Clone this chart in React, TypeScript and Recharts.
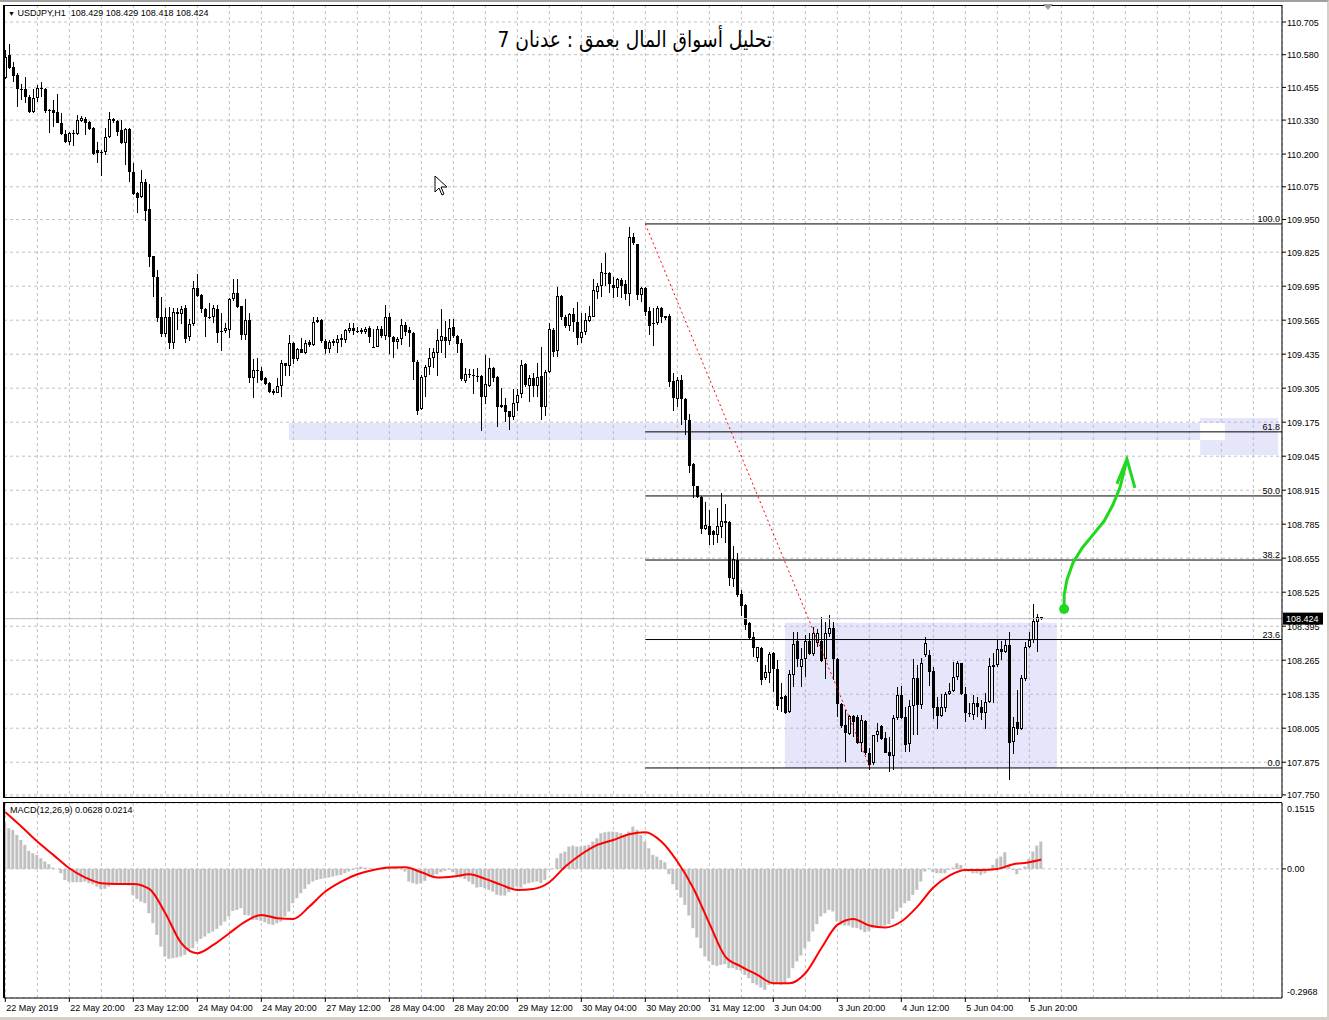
import React from "react";
import {
  ComposedChart,
  Bar,
  Line,
  Scatter,
  XAxis,
  YAxis,
  CartesianGrid,
  ReferenceLine,
  ReferenceArea,
} from "recharts";

// USDJPY H1, one row per bar: [open, high, low, close], bar 0 = 22 May 04:00
const ohlc: number[][] = [
  [110.491, 110.598, 110.487, 110.571], [110.579, 110.621, 110.525, 110.529], [110.533, 110.552, 110.476, 110.498], [110.502, 110.51, 110.38, 110.449], [110.449, 110.468, 110.407, 110.447],
  [110.449, 110.495, 110.395, 110.418], [110.418, 110.426, 110.357, 110.361], [110.361, 110.449, 110.357, 110.414], [110.414, 110.464, 110.399, 110.453], [110.453, 110.476, 110.418, 110.451],
  [110.449, 110.453, 110.357, 110.365], [110.369, 110.372, 110.281, 110.367], [110.369, 110.407, 110.304, 110.357], [110.361, 110.43, 110.317, 110.319], [110.319, 110.357, 110.273, 110.277],
  [110.277, 110.292, 110.242, 110.246], [110.246, 110.284, 110.235, 110.281], [110.281, 110.292, 110.231, 110.277], [110.277, 110.349, 110.273, 110.33], [110.326, 110.346, 110.323, 110.338],
  [110.334, 110.342, 110.273, 110.319], [110.323, 110.326, 110.292, 110.296], [110.3, 110.304, 110.197, 110.2], [110.216, 110.246, 110.166, 110.204], [110.208, 110.216, 110.116, 110.206],
  [110.208, 110.3, 110.197, 110.265], [110.265, 110.361, 110.262, 110.334], [110.334, 110.338, 110.319, 110.326], [110.326, 110.33, 110.269, 110.284], [110.292, 110.33, 110.24, 110.242],
  [110.242, 110.3, 110.158, 110.296], [110.296, 110.298, 110.093, 110.132], [110.132, 110.166, 110.044, 110.047], [110.051, 110.055, 109.975, 110.032], [110.036, 110.139, 110.034, 110.093],
  [110.093, 110.105, 109.944, 109.982], [109.99, 110.086, 109.768, 109.807], [109.81, 109.812, 109.654, 109.73], [109.73, 109.757, 109.558, 109.573], [109.577, 109.654, 109.501, 109.512],
  [109.512, 109.612, 109.501, 109.577], [109.577, 109.616, 109.455, 109.478], [109.478, 109.612, 109.455, 109.596], [109.596, 109.612, 109.528, 109.589], [109.589, 109.619, 109.55, 109.608],
  [109.612, 109.623, 109.478, 109.493], [109.501, 109.57, 109.486, 109.55], [109.55, 109.715, 109.543, 109.688], [109.688, 109.742, 109.654, 109.657], [109.661, 109.665, 109.592, 109.608],
  [109.608, 109.612, 109.501, 109.577], [109.577, 109.631, 109.57, 109.575], [109.577, 109.623, 109.554, 109.612], [109.608, 109.623, 109.478, 109.516], [109.524, 109.592, 109.447, 109.52],
  [109.524, 109.554, 109.516, 109.535], [109.528, 109.65, 109.497, 109.646], [109.646, 109.723, 109.639, 109.669], [109.669, 109.723, 109.612, 109.616], [109.619, 109.619, 109.489, 109.508],
  [109.508, 109.646, 109.489, 109.566], [109.566, 109.592, 109.325, 109.344], [109.344, 109.417, 109.268, 109.375], [109.373, 109.421, 109.325, 109.371], [109.371, 109.386, 109.333, 109.337],
  [109.344, 109.348, 109.318, 109.321], [109.325, 109.329, 109.287, 109.291], [109.295, 109.302, 109.279, 109.287], [109.287, 109.344, 109.287, 109.314], [109.314, 109.413, 109.272, 109.401],
  [109.401, 109.403, 109.352, 109.39], [109.39, 109.508, 109.352, 109.478], [109.478, 109.48, 109.398, 109.417], [109.417, 109.459, 109.409, 109.455], [109.455, 109.497, 109.438, 109.44],
  [109.44, 109.489, 109.436, 109.478], [109.482, 109.489, 109.463, 109.47], [109.47, 109.577, 109.466, 109.558], [109.558, 109.577, 109.554, 109.566], [109.566, 109.57, 109.478, 109.486],
  [109.486, 109.493, 109.436, 109.455], [109.455, 109.489, 109.44, 109.482], [109.486, 109.493, 109.466, 109.478], [109.478, 109.508, 109.44, 109.493], [109.497, 109.512, 109.463, 109.489],
  [109.489, 109.531, 109.478, 109.528], [109.524, 109.554, 109.516, 109.535], [109.535, 109.554, 109.508, 109.524], [109.524, 109.539, 109.516, 109.522], [109.528, 109.535, 109.512, 109.52],
  [109.52, 109.539, 109.512, 109.531], [109.535, 109.543, 109.478, 109.501], [109.463, 109.531, 109.459, 109.461], [109.463, 109.543, 109.463, 109.531], [109.531, 109.543, 109.497, 109.505],
  [109.505, 109.623, 109.489, 109.577], [109.577, 109.592, 109.436, 109.501], [109.501, 109.505, 109.421, 109.482], [109.482, 109.501, 109.455, 109.493], [109.493, 109.57, 109.47, 109.547],
  [109.547, 109.558, 109.505, 109.52], [109.528, 109.539, 109.463, 109.516], [109.516, 109.52, 109.337, 109.405], [109.405, 109.413, 109.203, 109.218], [109.226, 109.356, 109.222, 109.348],
  [109.348, 109.394, 109.272, 109.386], [109.386, 109.459, 109.356, 109.421], [109.421, 109.459, 109.382, 109.444], [109.44, 109.531, 109.352, 109.489], [109.486, 109.608, 109.44, 109.505],
  [109.501, 109.562, 109.421, 109.486], [109.486, 109.57, 109.47, 109.535], [109.539, 109.57, 109.497, 109.505], [109.505, 109.508, 109.44, 109.474], [109.478, 109.493, 109.333, 109.34],
  [109.333, 109.382, 109.325, 109.359], [109.356, 109.378, 109.344, 109.358], [109.352, 109.378, 109.283, 109.354], [109.352, 109.382, 109.329, 109.35], [109.352, 109.354, 109.141, 109.272],
  [109.272, 109.432, 109.245, 109.321], [109.314, 109.421, 109.31, 109.382], [109.382, 109.386, 109.329, 109.344], [109.348, 109.35, 109.157, 109.233], [109.241, 109.306, 109.229, 109.233],
  [109.241, 109.268, 109.176, 109.214], [109.218, 109.218, 109.146, 109.195], [109.195, 109.302, 109.184, 109.249], [109.249, 109.302, 109.218, 109.279], [109.283, 109.413, 109.268, 109.394],
  [109.398, 109.401, 109.31, 109.318], [109.314, 109.356, 109.252, 109.344], [109.344, 109.363, 109.272, 109.314], [109.314, 109.401, 109.272, 109.348], [109.352, 109.463, 109.184, 109.233],
  [109.233, 109.375, 109.199, 109.367], [109.367, 109.554, 109.363, 109.531], [109.528, 109.535, 109.424, 109.444], [109.447, 109.692, 109.424, 109.657], [109.657, 109.661, 109.566, 109.577],
  [109.577, 109.585, 109.535, 109.543], [109.543, 109.592, 109.524, 109.589], [109.589, 109.612, 109.52, 109.558], [109.558, 109.635, 109.47, 109.497], [109.497, 109.592, 109.478, 109.52],
  [109.52, 109.592, 109.508, 109.566], [109.562, 109.619, 109.558, 109.581], [109.577, 109.723, 109.577, 109.68], [109.673, 109.707, 109.646, 109.696], [109.696, 109.784, 109.654, 109.749],
  [109.745, 109.822, 109.696, 109.747], [109.745, 109.749, 109.669, 109.703], [109.7, 109.73, 109.65, 109.688], [109.688, 109.727, 109.654, 109.723], [109.719, 109.727, 109.65, 109.696],
  [109.703, 109.719, 109.642, 109.665], [109.665, 109.921, 109.619, 109.883], [109.883, 109.898, 109.852, 109.86], [109.856, 109.856, 109.642, 109.661], [109.661, 109.692, 109.635, 109.688],
  [109.688, 109.692, 109.581, 109.596], [109.6, 109.616, 109.508, 109.543], [109.554, 109.612, 109.466, 109.552], [109.554, 109.619, 109.547, 109.612], [109.612, 109.616, 109.554, 109.577],
  [109.581, 109.581, 109.566, 109.573], [109.581, 109.589, 109.31, 109.329], [109.333, 109.363, 109.218, 109.268], [109.264, 109.348, 109.233, 109.337], [109.337, 109.356, 109.165, 109.264],
  [109.264, 109.268, 109.126, 109.184], [109.184, 109.207, 108.981, 109.008], [109.015, 109.019, 108.885, 108.931], [108.931, 108.931, 108.885, 108.889], [108.889, 108.893, 108.748, 108.767],
  [108.767, 108.87, 108.763, 108.782], [108.778, 108.839, 108.706, 108.744], [108.759, 108.763, 108.706, 108.744], [108.744, 108.847, 108.713, 108.778], [108.774, 108.904, 108.733, 108.797],
  [108.797, 108.862, 108.713, 108.79], [108.794, 108.797, 108.549, 108.58], [108.576, 108.702, 108.545, 108.652], [108.648, 108.675, 108.507, 108.515], [108.518, 108.534, 108.434, 108.472],
  [108.476, 108.48, 108.381, 108.4], [108.408, 108.411, 108.343, 108.35], [108.354, 108.373, 108.278, 108.312], [108.274, 108.316, 108.258, 108.316], [108.312, 108.316, 108.171, 108.19],
  [108.197, 108.247, 108.19, 108.22], [108.216, 108.297, 108.178, 108.289], [108.293, 108.297, 108.144, 108.232], [108.232, 108.266, 108.075, 108.091], [108.117, 108.178, 108.067, 108.125],
  [108.129, 108.132, 108.06, 108.064], [108.067, 108.228, 108.064, 108.213], [108.209, 108.373, 108.163, 108.327], [108.339, 108.373, 108.239, 108.27], [108.239, 108.312, 108.163, 108.27],
  [108.27, 108.362, 108.201, 108.339], [108.339, 108.369, 108.285, 108.289], [108.289, 108.392, 108.281, 108.369], [108.331, 108.385, 108.316, 108.369], [108.339, 108.431, 108.258, 108.262],
  [108.27, 108.411, 108.193, 108.369], [108.366, 108.438, 108.354, 108.388], [108.388, 108.411, 108.19, 108.27], [108.27, 108.274, 108.048, 108.098], [108.098, 108.102, 108.006, 108.014],
  [108.018, 108.075, 107.876, 107.987], [107.983, 108.056, 107.979, 108.052], [108.052, 108.056, 107.972, 108.029], [108.048, 108.056, 107.945, 107.949], [107.949, 108.056, 107.914, 108.037],
  [108.033, 108.037, 107.903, 107.911], [107.911, 107.93, 107.846, 107.865], [107.872, 107.979, 107.865, 107.979], [107.979, 108.025, 107.953, 107.995], [108.014, 108.018, 107.96, 107.964],
  [107.968, 107.991, 107.911, 107.911], [107.914, 107.972, 107.838, 107.899], [107.899, 108.056, 107.846, 108.045], [108.045, 108.163, 108.037, 108.132], [108.132, 108.167, 108.041, 108.045],
  [108.048, 108.087, 107.914, 107.941], [107.945, 108.113, 107.914, 108.091], [108.091, 108.27, 107.979, 108.197], [108.197, 108.247, 107.979, 108.094], [108.094, 108.274, 108.079, 108.255],
  [108.285, 108.354, 108.277, 108.331], [108.285, 108.304, 108.167, 108.22], [108.224, 108.239, 108.041, 108.083], [108.087, 108.125, 108.002, 108.052], [108.052, 108.136, 108.048, 108.087],
  [108.083, 108.144, 108.067, 108.136], [108.136, 108.178, 108.132, 108.148], [108.148, 108.258, 108.144, 108.201], [108.201, 108.262, 108.19, 108.255], [108.255, 108.255, 108.132, 108.136],
  [108.136, 108.163, 108.029, 108.064], [108.062, 108.102, 108.048, 108.06], [108.056, 108.132, 108.037, 108.102], [108.102, 108.125, 108.048, 108.087], [108.087, 108.113, 108.037, 108.064],
  [108.064, 108.14, 108.002, 108.106], [108.106, 108.274, 108.102, 108.243], [108.247, 108.293, 108.102, 108.239], [108.247, 108.343, 108.239, 108.308], [108.308, 108.339, 108.266, 108.297],
  [108.297, 108.343, 108.293, 108.323], [108.323, 108.373, 107.807, 107.949], [107.953, 108.048, 107.907, 108.01], [108.029, 108.151, 107.979, 108.002], [108.002, 108.209, 107.999, 108.197],
  [108.193, 108.335, 108.186, 108.316], [108.316, 108.373, 108.312, 108.343], [108.343, 108.48, 108.331, 108.415], [108.411, 108.442, 108.297, 108.431], [108.429, 108.429, 108.418, 108.424],
];

// MACD(12,26,9) main value per bar (grey histogram)
const macdHist = [
  0.1049, 0.0935, 0.0896, 0.0781, 0.0666, 0.0552, 0.0414, 0.036, 0.0322, 0.0245,
  0.0169, 0.0107, 0.0031, -0.0008, -0.01, -0.0253, -0.0291, -0.0306, -0.0306, -0.0306,
  -0.0291, -0.0329, -0.0352, -0.0406, -0.046, -0.046, -0.0406, -0.0368, -0.0352, -0.0352,
  -0.0368, -0.0383, -0.0597, -0.0689, -0.0751, -0.0789, -0.1019, -0.1249, -0.1517, -0.1785,
  -0.2015, -0.2068, -0.2053, -0.2038, -0.2015, -0.1976, -0.1861, -0.1823, -0.167, -0.1609,
  -0.1555, -0.1478, -0.144, -0.1379, -0.1302, -0.121, -0.1095, -0.0965, -0.0942, -0.0904,
  -0.1057, -0.1072, -0.1172, -0.1172, -0.1195, -0.1226, -0.1272, -0.1287, -0.1249, -0.121,
  -0.1095, -0.098, -0.0789, -0.0674, -0.0559, -0.046, -0.0352, -0.0291, -0.0253, -0.023,
  -0.0214, -0.0199, -0.0176, -0.0153, -0.0138, -0.01, -0.0061, -0.0023, 0.0031, 0.0054,
  0.0031, 0.0015, 0.0004, -0.0008, 0.0004, 0.0015, 0.0015, 0.0031, 0.0015, -0.0008,
  -0.0061, -0.0291, -0.0329, -0.0352, -0.0329, -0.0276, -0.0176, -0.0153, -0.0123, -0.0077,
  -0.0046, -0.0023, -0.0077, -0.0138, -0.0199, -0.023, -0.0291, -0.0352, -0.0429, -0.0414,
  -0.0444, -0.0483, -0.0521, -0.0597, -0.0613, -0.0613, -0.0536, -0.0444, -0.0406, -0.0429,
  -0.0352, -0.0329, -0.0306, -0.0291, -0.0329, -0.0253, -0.0023, 0.0015, 0.0245, 0.036,
  0.0398, 0.0513, 0.0536, 0.0513, 0.0513, 0.0536, 0.0552, 0.0628, 0.0705, 0.082,
  0.0843, 0.0858, 0.0858, 0.0843, 0.082, 0.0781, 0.0858, 0.0973, 0.0896, 0.0781,
  0.0628, 0.0475, 0.0322, 0.0283, 0.0207, 0.0153, -0.0123, -0.0352, -0.0483, -0.0659,
  -0.0827, -0.1072, -0.1363, -0.1578, -0.1823, -0.2015, -0.2114, -0.2206, -0.2229, -0.2206,
  -0.2191, -0.2283, -0.2283, -0.2321, -0.2344, -0.2436, -0.2512, -0.2627, -0.2666, -0.2727,
  -0.2781, -0.2666, -0.2627, -0.265, -0.2666, -0.265, -0.2512, -0.2283, -0.2129, -0.1992,
  -0.1823, -0.167, -0.144, -0.1272, -0.1095, -0.1019, -0.0942, -0.098, -0.121, -0.1287,
  -0.1302, -0.1302, -0.1348, -0.1363, -0.1402, -0.1455, -0.1425, -0.1363, -0.1348, -0.1325,
  -0.1302, -0.1272, -0.1149, -0.098, -0.0889, -0.0789, -0.0735, -0.0597, -0.0483, -0.0291,
  -0.0061, 0.0015, -0.0077, -0.01, -0.01, -0.01, -0.0023, 0.0031, 0.013, 0.0092,
  -0.0023, -0.0061, -0.01, -0.01, -0.0138, -0.01, -0.0023, 0.0092, 0.023, 0.0283,
  0.0383, 0.0092, -0.0023, -0.0123, -0.0023, 0.0054, 0.023, 0.0398, 0.0536, 0.0628,
];

// signal line, read every 4th bar: [bar, value]
const signalPoints = [
  [0, 0.1302], [4, 0.0973], [8, 0.0628], [12, 0.0322], [16, 0.0015], [20, -0.0199], [24, -0.0329], [28, -0.0345],
  [32, -0.0345], [36, -0.046], [40, -0.1019], [44, -0.1708], [48, -0.1938], [52, -0.1746], [56, -0.1478], [60, -0.121],
  [64, -0.1057], [68, -0.1134], [72, -0.1149], [76, -0.0866], [80, -0.0521], [84, -0.0291], [88, -0.0123], [92, -0.0023],
  [96, 0.0031], [100, 0.0038], [104, -0.0077], [108, -0.0199], [112, -0.0176], [116, -0.0123], [120, -0.023], [124, -0.0368],
  [128, -0.0483], [132, -0.046], [136, -0.0306], [140, 0.0054], [144, 0.0337], [148, 0.0552], [152, 0.0666], [156, 0.0797],
  [160, 0.0843], [164, 0.0628], [168, 0.0169], [172, -0.0444], [176, -0.1249], [180, -0.2015], [184, -0.2244], [188, -0.2436],
  [192, -0.2627], [196, -0.2627], [200, -0.2398], [204, -0.1823], [208, -0.1287], [212, -0.1149], [216, -0.1302], [220, -0.1348],
  [224, -0.121], [228, -0.0866], [232, -0.0429], [236, -0.0153], [240, -0.0023], [244, -0.0023], [248, 0], [252, 0.0107],
  [256, 0.0153], [259, 0.0214],
];

const priceTicks = [
  110.705, 110.58, 110.455, 110.33, 110.2, 110.075, 109.95, 109.825, 109.695, 109.565, 109.435, 109.305,
  109.175, 109.045, 108.915, 108.785, 108.655, 108.525, 108.395, 108.265, 108.135, 108.005, 107.875, 107.75,
];
const lastPrice = 108.424;
const macdTicks = [0.1515, 0, -0.2968];

// one label every 16 bars
const timeLabels = [
  "22 May 2019", "22 May 20:00", "23 May 12:00", "24 May 04:00", "24 May 20:00", "27 May 12:00",
  "28 May 04:00", "28 May 20:00", "29 May 12:00", "30 May 04:00", "30 May 20:00", "31 May 12:00",
  "3 Jun 04:00", "3 Jun 20:00", "4 Jun 12:00", "5 Jun 04:00", "5 Jun 20:00",
];

// fibo retracement drawn from bar 160
const fibLevels = [
  ["100.0", 109.933], ["61.8", 109.138], ["50.0", 108.893], ["38.2", 108.648], ["23.6", 108.344], ["0.0", 107.853],
];
const fibStart = 160;
const trendLine = [{ x: 160, y: 109.933 }, { x: 216.2, y: 107.853 }];

// lavender rectangles: [bar1, bar2, price1, price2]
const zoneBand = [70.9, 298.7, 109.107, 109.172];
const zoneRight = [298.7, 318.2, 109.05, 109.191];
const zoneOverlap = [298.7, 304.9, 109.107, 109.172];
const rangeBox = [194.9, 262.9, 107.853, 108.408];

// green hand-drawn arrow (bar, price)
const arrowCurve = [
  { i: 264.7, p: 108.461 }, { i: 264.7, p: 108.514 }, { i: 265.4, p: 108.572 }, { i: 266.9, p: 108.637 },
  { i: 269.2, p: 108.694 }, { i: 271.9, p: 108.744 }, { i: 274.7, p: 108.797 }, { i: 276.9, p: 108.859 },
  { i: 278.7, p: 108.927 }, { i: 279.9, p: 109.0 }, { i: 280.4, p: 109.034 },
];
const arrowHead = [{ i: 277.9, p: 108.939 }, { i: 280.4, p: 109.034 }, { i: 282.4, p: 108.924 }];

const X_DOMAIN = [-0.33, 319.17];
const PRICE_DOMAIN = [107.742, 110.77];
const MACD_DOMAIN = [-0.2968, 0.1515];
const gridBars = Array.from({ length: 40 }, (_, k) => k * 8);

const PLOT_W = 1278;
const MAIN_H = 792;
const MACD_H = 195;
const FONT = "'Liberation Sans', Arial, sans-serif";
const GREEN = "#1fd81f";

const candleRows = ohlc.map(([o, h, l, c], i) => ({ i, o, h, l, c, range: [l, h] }));
const signalByBar = new Map(signalPoints.map(([b, v]) => [b, v]));
const macdRows = macdHist.map((v, i) => ({
  i,
  hist: v,
  signal: signalByBar.has(i) ? signalByBar.get(i) : null,
}));

const Candle = (props: any) => {
  const { x, y, width, height, payload } = props;
  if (x == null || y == null || !payload) return <g />;
  const { o, h, l, c } = payload;
  const top = Math.min(y, y + height);
  const span = Math.abs(height);
  const toY = (v: number) => (h > l ? top + ((h - v) / (h - l)) * span : top);
  const left = Math.round(x + width / 2 - 1.5);
  const yH = Math.round(toY(h));
  const yL = Math.round(toY(l));
  const bTop = Math.round(toY(Math.max(o, c)));
  const bBot = Math.round(toY(Math.min(o, c)));
  const bull = c > o;
  let body;
  if (bBot - bTop <= 1) {
    body = <rect x={left} y={bTop} width={3} height={1} fill="#000" />;
  } else if (bull) {
    body = (
      <rect x={left + 0.5} y={bTop + 0.5} width={2} height={bBot - bTop - 1} fill="#fff" stroke="#000" strokeWidth={1} />
    );
  } else {
    body = <rect x={left} y={bTop} width={3} height={bBot - bTop} fill="#000" />;
  }
  return (
    <g shapeRendering="crispEdges">
      <rect x={left + 1} y={yH} width={1} height={Math.max(1, yL - yH)} fill="#000" />
      {body}
    </g>
  );
};

const PriceTick = (props: any) => {
  const { y, payload } = props;
  const v = payload.value;
  if (v === lastPrice) {
    return (
      <g>
        <rect x={PLOT_W + 1} y={y - 6} width={40} height={12} fill="#000" />
        <text x={PLOT_W + 4} y={y + 3.5} fill="#fff" fontSize={9} fontFamily={FONT}>
          {v.toFixed(3)}
        </text>
      </g>
    );
  }
  return (
    <g>
      <line x1={PLOT_W} x2={PLOT_W + 4} y1={y} y2={y} stroke="#000" />
      <text x={PLOT_W + 5} y={y + 3.5} fill="#000" fontSize={9} fontFamily={FONT}>
        {v.toFixed(3)}
      </text>
    </g>
  );
};

const MacdTick = (props: any) => {
  const { y, payload } = props;
  const v = payload.value;
  const label = v === 0 ? "0.00" : v.toFixed(4);
  const dy = v === macdTicks[0] ? 8.5 : v === macdTicks[2] ? -3.5 : 3.5;
  return (
    <g>
      {v === 0 && <line x1={PLOT_W} x2={PLOT_W + 4} y1={y} y2={y} stroke="#000" />}
      <text x={PLOT_W + 5} y={y + dy} fill="#000" fontSize={9} fontFamily={FONT}>
        {label}
      </text>
    </g>
  );
};

const TimeTick = (props: any) => {
  const { x, payload } = props;
  const v = payload.value;
  if (v % 16 !== 0 || v / 16 >= timeLabels.length) return <g />;
  return (
    <g>
      <line x1={x} x2={x} y1={MACD_H} y2={MACD_H + 4} stroke="#000" />
      <text x={x + 1} y={MACD_H + 12.5} fill="#000" fontSize={9} fontFamily={FONT}>
        {timeLabels[v / 16]}
      </text>
    </g>
  );
};

const fibLabel = (text: string) => (props: any) => {
  const vb = props.viewBox || {};
  const right = (vb.x ?? 0) + (vb.width ?? 0) - 2;
  return (
    <text x={right} y={(vb.y ?? 0) - 2} textAnchor="end" fontSize={9} fontFamily={FONT} fill="#000">
      {text}
    </text>
  );
};

const NoPoint = () => <g />;

export default function App() {
  return (
    <div
      style={{
        position: "absolute",
        left: 0,
        top: 0,
        width: 1329,
        height: 1020,
        background: "#fff",
        boxSizing: "border-box",
        borderTop: "2px solid #a0a0a0",
        borderRight: "2px solid #d4d0c8",
        borderBottom: "3px solid #d4d0c8",
        overflow: "hidden",
        fontFamily: FONT,
      }}
    >
      <div style={{ position: "absolute", left: 4, top: 3 }}>
        <ComposedChart width={1322} height={MAIN_H + 8} data={candleRows} margin={{ top: 0, right: 0, bottom: 8, left: 0 }}>
          <CartesianGrid stroke="#c0c0c0" strokeDasharray="3 3" />
          <XAxis dataKey="i" type="number" domain={X_DOMAIN} ticks={gridBars.slice(1)} hide allowDataOverflow />
          <YAxis
            orientation="right"
            width={44}
            type="number"
            domain={PRICE_DOMAIN}
            ticks={[...priceTicks, lastPrice]}
            interval={0}
            allowDataOverflow
            axisLine={{ stroke: "#000" }}
            tickLine={false}
            tick={(p: any) => <PriceTick {...p} />}
          />
          <ReferenceArea x1={zoneBand[0]} x2={zoneBand[1]} y1={zoneBand[2]} y2={zoneBand[3]} fill="#acacee" fillOpacity={0.3} stroke="none" ifOverflow="visible" />
          <ReferenceArea x1={zoneRight[0]} x2={zoneRight[1]} y1={zoneRight[2]} y2={zoneRight[3]} fill="#acacee" fillOpacity={0.3} stroke="none" ifOverflow="visible" />
          <ReferenceArea x1={zoneOverlap[0]} x2={zoneOverlap[1]} y1={zoneOverlap[2]} y2={zoneOverlap[3]} fill="#fff" fillOpacity={1} stroke="none" ifOverflow="visible" />
          <ReferenceArea x1={rangeBox[0]} x2={rangeBox[1]} y1={rangeBox[2]} y2={rangeBox[3]} fill="#acacee" fillOpacity={0.3} stroke="none" ifOverflow="visible" />
          <ReferenceLine y={lastPrice} stroke="#c0c0c0" />
          {fibLevels.map(([name, price]) => (
            <ReferenceLine
              key={name as string}
              segment={[
                { x: fibStart, y: price as number },
                { x: X_DOMAIN[1], y: price as number },
              ]}
              stroke="#000"
              ifOverflow="visible"
              label={fibLabel(name as string)}
            />
          ))}
          <ReferenceLine segment={trendLine} stroke="#ff0000" strokeDasharray="2 3" ifOverflow="visible" />
          <Bar dataKey="range" shape={Candle} barSize={3} isAnimationActive={false} />
          <Scatter data={arrowCurve} dataKey="p" line={{ stroke: GREEN, strokeWidth: 3 }} lineType="joint" shape={NoPoint} isAnimationActive={false} />
          <Scatter data={arrowHead} dataKey="p" line={{ stroke: GREEN, strokeWidth: 3 }} lineType="joint" shape={NoPoint} isAnimationActive={false} />
          <Scatter
            data={[arrowCurve[0]]}
            dataKey="p"
            shape={(p: any) => <circle cx={p.cx} cy={p.cy} r={5} fill={GREEN} />}
            isAnimationActive={false}
          />
        </ComposedChart>
      </div>

      <div style={{ position: "absolute", left: 4, top: 801 }}>
        <ComposedChart width={1322} height={MACD_H + 23} data={macdRows} margin={{ top: 0, right: 0, bottom: 0, left: 0 }}>
          <CartesianGrid stroke="#c0c0c0" strokeDasharray="3 3" />
          <XAxis
            dataKey="i"
            type="number"
            domain={X_DOMAIN}
            ticks={gridBars}
            interval={0}
            allowDataOverflow
            height={23}
            axisLine={{ stroke: "#000" }}
            tickLine={false}
            tick={(p: any) => <TimeTick {...p} />}
          />
          <YAxis
            orientation="right"
            width={44}
            type="number"
            domain={MACD_DOMAIN}
            ticks={macdTicks}
            interval={0}
            allowDataOverflow
            axisLine={{ stroke: "#000" }}
            tickLine={false}
            tick={(p: any) => <MacdTick {...p} />}
          />
          <Bar dataKey="hist" fill="#c0c0c0" barSize={3} isAnimationActive={false} />
          <Line dataKey="signal" type="monotone" stroke="#ff0000" strokeWidth={2} dot={false} connectNulls isAnimationActive={false} />
        </ComposedChart>
      </div>

      {/* pane frames */}
      <div style={{ position: "absolute", left: 3, top: 3, width: 1279, height: 793, borderTop: "1px solid #000", borderBottom: "1px solid #000", borderLeft: "2px solid #000", boxSizing: "border-box", pointerEvents: "none" }} />
      <div style={{ position: "absolute", left: 3, top: 800, width: 1279, height: 196, borderTop: "1px solid #000", borderLeft: "2px solid #000", boxSizing: "border-box", pointerEvents: "none" }} />

      <div style={{ position: "absolute", left: 8, top: 6, fontSize: 9, whiteSpace: "pre", color: "#000" }}>
        <span style={{ fontSize: 7 }}>▼</span> USDJPY,H1  108.429 108.429 108.418 108.424
      </div>
      <div style={{ position: "absolute", left: 10, top: 803, fontSize: 9, whiteSpace: "pre", color: "#000" }}>
        MACD(12,26,9) 0.0628 0.0214
      </div>
      <div
        dir="rtl"
        style={{
          position: "absolute",
          top: 25,
          right: 1329 - 774,
          whiteSpace: "nowrap",
          fontSize: 22,
          fontFamily: "'DejaVu Sans', sans-serif",
          color: "#000",
          transform: "scaleX(0.85)",
          transformOrigin: "right center",
        }}
      >
        تحليل أسواق المال بعمق : عدنان 7
      </div>

      <svg style={{ position: "absolute", left: 0, top: 0, pointerEvents: "none" }} width={1329} height={1020}>
        <polygon points="1043,2 1053,2 1048,8" fill="#a0a0a0" />
        <polygon
          points="435,174 435,190 439,186 442,193 444,192 441,185 447,185"
          fill="#fff"
          stroke="#000"
          strokeWidth={1}
        />
      </svg>
    </div>
  );
}
